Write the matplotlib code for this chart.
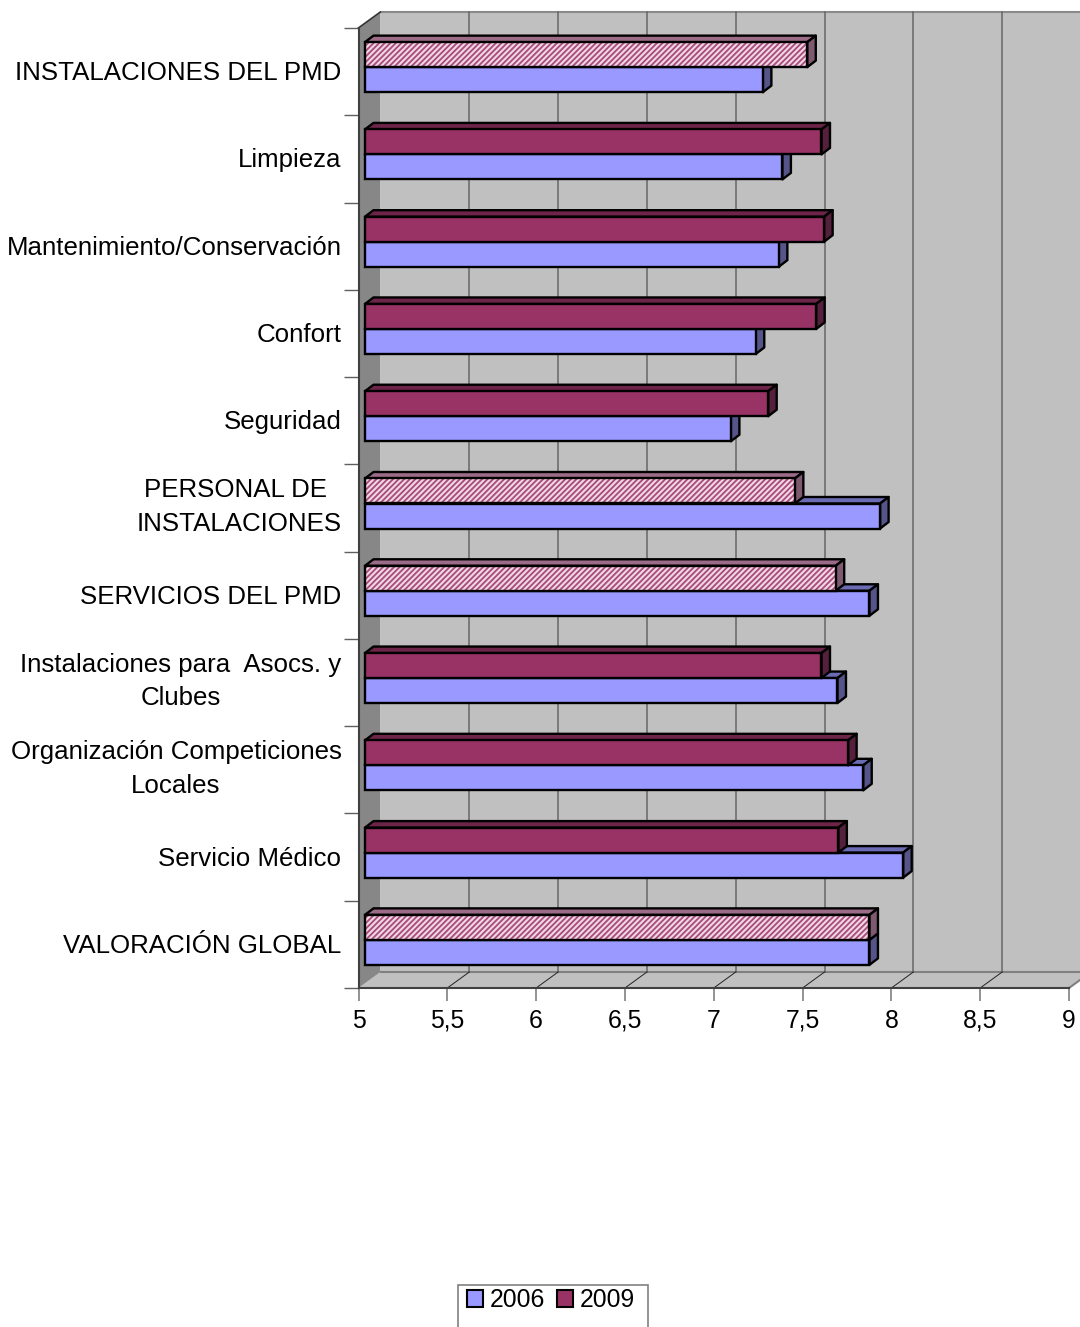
import numpy as np
import matplotlib
matplotlib.use("Agg")
import matplotlib.pyplot as plt
from matplotlib.patches import Polygon, Patch, Rectangle

plt.rcParams['font.family'] = ['Liberation Sans', 'DejaVu Sans']
plt.rcParams['hatch.linewidth'] = 1.3

# Bottom-to-top category order
categories = ["VALORACIÓN GLOBAL", "Servicio Médico", "Organización Competiciones\nLocales",
              "Instalaciones para  Asocs. y\nClubes", "SERVICIOS DEL PMD", "PERSONAL DE \nINSTALACIONES",
              "Seguridad", "Confort", "Mantenimiento/Conservación", "Limpieza", "INSTALACIONES DEL PMD"]
values_2006 = [7.84, 8.03, 7.805, 7.66, 7.84, 7.90, 7.06, 7.20, 7.33, 7.35, 7.24]
values_2009 = [7.84, 7.665, 7.72, 7.57, 7.65, 7.42, 7.27, 7.54, 7.585, 7.57, 7.49]
hatched_2009 = [True, False, False, False, True, True, False, False, False, False, True]
xticks = [5, 5.5, 6, 6.5, 7, 7.5, 8, 8.5, 9]
xticklabels = ["5", "5,5", "6", "6,5", "7", "7,5", "8", "8,5", "9"]

W, H = 1080, 1327
fig = plt.figure(figsize=(W / 100, H / 100), dpi=100, facecolor='white')
L, R, B, T = 358.5, 1069.0, 988.0, 28.0
ax = fig.add_axes([L / W, 1 - B / H, (R - L) / W, (B - T) / H])
ax.set_xlim(5, 9)
ax.set_ylim(0, 11)
ax.patch.set_visible(False)
px = 4 / (R - L)      # data units per pixel, x
py = 11 / (B - T)     # data units per pixel, y

# 3D box walls
wx, wy = 22 * px, 16 * py
ax.add_patch(Polygon([(5 + wx, wy), (9 + wx, wy), (9 + wx, 11 + wy), (5 + wx, 11 + wy)],
                     fc='#c0c0c0', ec='none', clip_on=False, zorder=1))
ax.add_patch(Polygon([(5, 0), (9, 0), (9 + wx, wy), (5 + wx, wy)],
                     fc='#c0c0c0', ec='none', clip_on=False, zorder=1))
ax.add_patch(Polygon([(5, 0), (5 + wx, wy), (5 + wx, 11 + wy), (5, 11)],
                     fc='#878787', ec='none', clip_on=False, zorder=1.1))
ax.plot([5, 5 + wx, 9 + wx], [11, 11 + wy, 11 + wy], color='#8a8a8a', lw=1.5, clip_on=False, zorder=1.2)
ax.plot([5, 5 + wx], [11, 11 + wy], color='#303030', lw=1.0, clip_on=False, zorder=1.3)
ax.plot([5 + wx, 9 + wx], [wy, wy], color='#808080', lw=1.5, clip_on=False, zorder=1.2)
ax.plot([9, 9 + wx], [0, wy], color='#808080', lw=1.5, clip_on=False, zorder=1.2)
for t in xticks[1:]:
    ax.plot([t + wx, t + wx], [wy, 11 + wy], color='#666666', lw=1.1, clip_on=False, zorder=1.5)
    if t < 9:
        ax.plot([t, t + wx], [0, wy], color='#222222', lw=0.7, clip_on=False, zorder=1.5)

# Bars
y = np.arange(len(categories)) + 0.5 + 4.5 * py
h = 25 * py
x0 = 5 + 6.5 * px
ddx, ddy = 8.5 * px, 6.5 * py
EDGE = dict(edgecolor='black', linewidth=1.7)


def faces(ax, v, yc, top_col, side_col, z=3):
    xe = 5 + 6.5 * px + (v - 5)
    yb, yt = yc - h / 2, yc + h / 2
    kw = dict(ec='black', lw=1.7, clip_on=False, zorder=z, joinstyle='round')
    top = Polygon([(x0, yt), (xe, yt), (xe + ddx, yt + ddy), (x0 + ddx, yt + ddy)], fc=top_col, **kw)
    side = Polygon([(xe, yb), (xe, yt), (xe + ddx, yt + ddy), (xe + ddx, yb + ddy)], fc=side_col, **kw)
    ax.add_patch(top)
    ax.add_patch(side)


for i, (v06, v09, hat) in enumerate(zip(values_2006, values_2009, hatched_2009)):
    z = 3 + i * 0.01
    faces(ax, v06, y[i] - h / 2, '#6b6bb3', '#55558a', z=z)
    ax.barh(y[i] - h / 2, v06 - 5, height=h, left=x0, color='#9999ff', clip_on=False, zorder=z + 0.001, **EDGE)
    if hat:
        faces(ax, v09, y[i] + h / 2, '#9c6b87', '#7d5a70', z=z + 0.002)
        ax.barh(y[i] + h / 2, v09 - 5, height=h, left=x0, color='#efd6e3', hatch='//////',
                edgecolor='#a84a7a', linewidth=0, clip_on=False, zorder=z + 0.003)
        ax.barh(y[i] + h / 2, v09 - 5, height=h, left=x0, color='none', clip_on=False, zorder=z + 0.004, **EDGE)
    else:
        faces(ax, v09, y[i] + h / 2, '#6d2449', '#55203b', z=z + 0.002)
        ax.barh(y[i] + h / 2, v09 - 5, height=h, left=x0, color='#993366', clip_on=False, zorder=z + 0.004, **EDGE)

# Axes, ticks
for s in ('top', 'right'):
    ax.spines[s].set_visible(False)
for s in ('left', 'bottom'):
    ax.spines[s].set_color('#404040')
    ax.spines[s].set_linewidth(1.5)
    ax.spines[s].set_zorder(2)
ax.set_xticks(xticks)
ax.set_xticklabels(xticklabels, fontsize=17.8)
ax.tick_params(axis='x', length=9.5, width=1.2, color='#808080', pad=5.5, labelcolor='black')
ax.set_yticks(np.arange(12))
ax.set_yticklabels([])
ax.tick_params(axis='y', which='major', length=10.5, width=1.0, color='#606060')
ax.set_yticks(np.arange(11) + 0.5 + 1 * py, minor=True)
labs = ax.set_yticklabels(categories, minor=True, fontsize=18.6, linespacing=1.5, multialignment='center')
ax.tick_params(axis='y', which='minor', length=0, pad=12.3)
for lab in labs:
    if '\n' in lab.get_text():
        lab.set_verticalalignment('center')

# Legend
fig.add_artist(Rectangle((457.5 / W, -0.01), 190 / W, 1 - 1284.5 / H + 0.01, fc='white', ec='#808080', lw=1.2,
                         transform=fig.transFigure))
handles = [Patch(fc='#9999ff', ec='black', lw=1.5, label='2006'),
           Patch(fc='#993366', ec='black', lw=1.5, label='2009')]
leg = fig.legend(handles=handles, loc='upper center', bbox_to_anchor=(550.5 / W, 1 - 1283.5 / H), ncol=2,
                 frameon=False, fontsize=17.8, handlelength=0.68, handleheight=0.68,
                 handletextpad=0.24, columnspacing=0.48, borderpad=0.18, borderaxespad=0)
fig.savefig('out.png', dpi=100, facecolor='white')
